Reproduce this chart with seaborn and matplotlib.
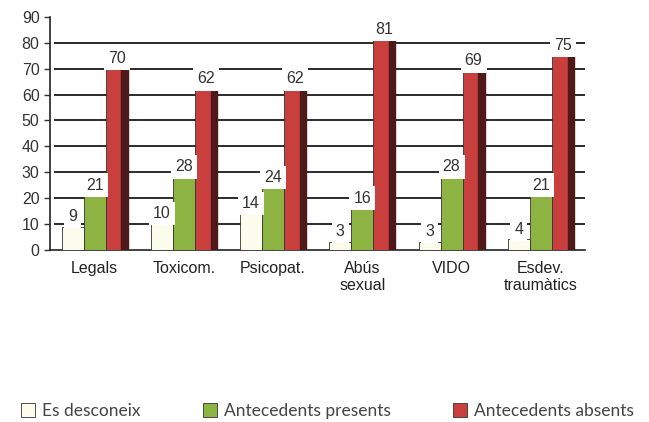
import pandas as pd
import numpy as np
import matplotlib.pyplot as plt
import seaborn as sns
from matplotlib.patches import Rectangle

# data
categories = ['Legals', 'Toxicom.', 'Psicopat.', 'Abús\nsexual', 'VIDO', 'Esdev.\ntraumàtics']
series = ['Es desconeix', 'Antecedents presents', 'Antecedents absents']
desconeix = [9, 10, 14, 3, 3, 4]
presents = [21, 28, 24, 16, 28, 21]
absents = [70, 62, 62, 81, 69, 75]

colors = ['#FCFCEC', '#8DB443', '#C93F3D']
dark_side = '#4E1A19'

df = pd.DataFrame({
    'categoria': categories * 3,
    'serie': [series[0]] * 6 + [series[1]] * 6 + [series[2]] * 6,
    'valor': desconeix + presents + absents,
})

sns.set_style('white')
plt.rcParams['font.family'] = ['Liberation Sans', 'DejaVu Sans']

fig = plt.figure(figsize=(6.49, 4.22), dpi=100)
ax = fig.add_axes([0.077, 0.408, 0.825, 0.552])

sns.barplot(data=df, x='categoria', y='valor', hue='serie', hue_order=series,
            palette=colors, saturation=1, width=0.74, gap=0, ax=ax, zorder=3,
            edgecolor='#333333', linewidth=0.6)

# dark side of the red bars (fake 3D depth)
for bar in ax.containers[2]:
    x, w, h = bar.get_x(), bar.get_width(), bar.get_height()
    ax.add_patch(Rectangle((x + w * 0.72, 0), w * 0.28, h, color=dark_side, zorder=3.5))

ax.set_ylim(0, 90)
ax.set_yticks(np.arange(0, 91, 10))
ax.set_xlim(-0.5, 5.5)
ax.hlines(np.arange(10, 81, 10), -0.45, 5.5, color='#1a1a1a', linewidth=1.3, zorder=1)

# value labels in white boxes
for cont in ax.containers:
    for bar in cont:
        h = bar.get_height()
        ax.text(bar.get_x() + bar.get_width() / 2, h + 4, f'{int(h)}',
                ha='center', va='center', fontsize=11.5, color='#333333', zorder=6,
                bbox=dict(facecolor='white', edgecolor='none', pad=3))

ax.set_xlabel('')
ax.set_ylabel('')
ax.tick_params(axis='x', labelsize=11.5, colors='#222222', length=0, pad=8)
ax.tick_params(axis='y', labelsize=11.5, colors='#333333', length=4, width=1, direction='out', left=True)
for s in ['top', 'right']:
    ax.spines[s].set_visible(False)
ax.spines['left'].set_color('#222222')
ax.spines['bottom'].set_color('#222222')
ax.spines['left'].set_linewidth(1.2)
ax.spines['bottom'].set_linewidth(1.2)

handles, labels = ax.get_legend_handles_labels()
ax.get_legend().remove()
leg = fig.legend(handles, labels, loc='lower center', bbox_to_anchor=(0.505, -0.03), ncol=3,
                 frameon=False, handlelength=0.8, handleheight=0.8,
                 handletextpad=0.4, columnspacing=3.6, prop={'family': 'Lato', 'size': 12.5})
for t in leg.get_texts():
    t.set_color('#444444')

fig.savefig('out.png', dpi=100)
